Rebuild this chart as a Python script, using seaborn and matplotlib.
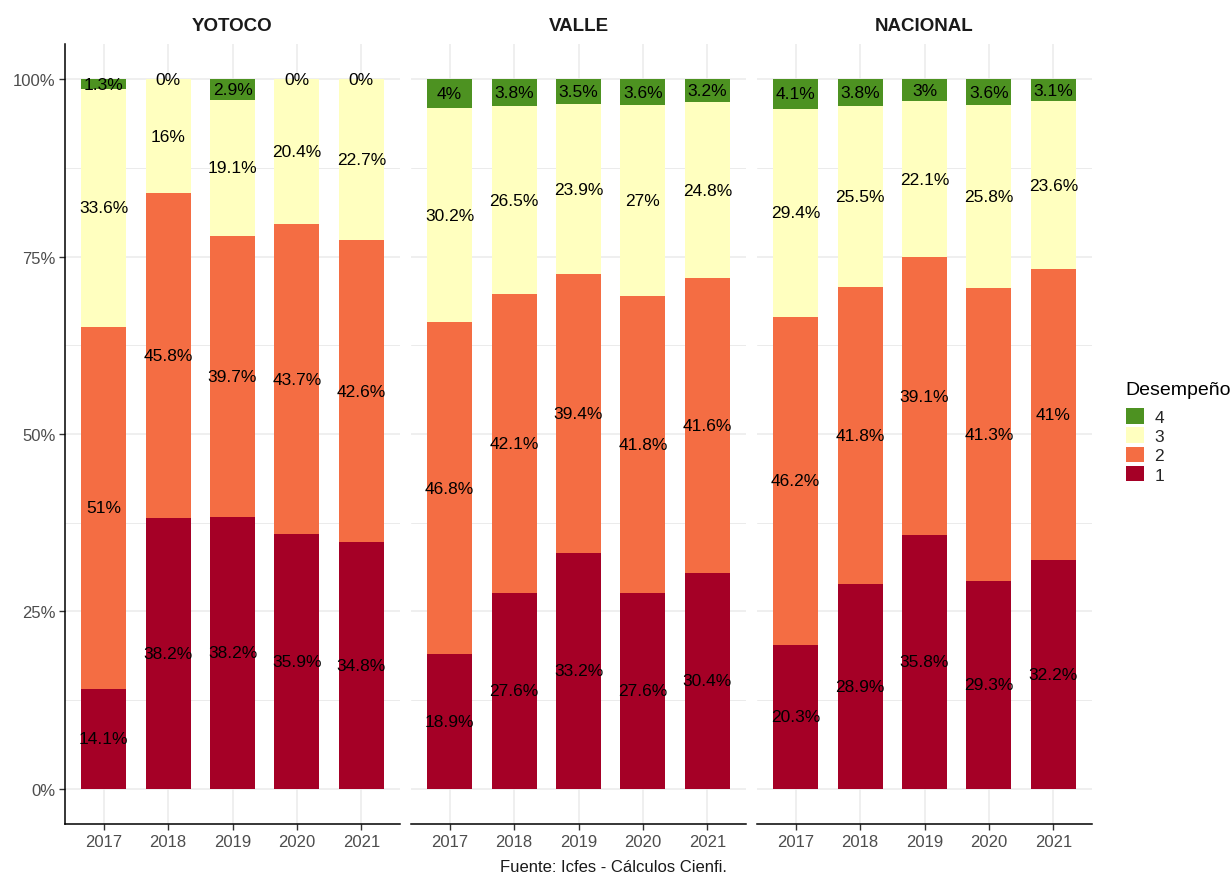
import numpy as np
import pandas as pd
import matplotlib
matplotlib.use("Agg")
import matplotlib.pyplot as plt
from matplotlib.ticker import MultipleLocator, FixedLocator
from matplotlib.patches import Patch
import seaborn as sns

# ---------------- data ----------------
years = ["2017", "2018", "2019", "2020", "2021"]
regions = ["YOTOCO", "VALLE", "NACIONAL"]
levels = ["1", "2", "3", "4"]

yotoco_1 = [14.1, 38.2, 38.2, 35.9, 34.8]
yotoco_2 = [51.0, 45.8, 39.7, 43.7, 42.6]
yotoco_3 = [33.6, 16.0, 19.1, 20.4, 22.7]
yotoco_4 = [1.3, 0.0, 2.9, 0.0, 0.0]

valle_1 = [18.9, 27.6, 33.2, 27.6, 30.4]
valle_2 = [46.8, 42.1, 39.4, 41.8, 41.6]
valle_3 = [30.2, 26.5, 23.9, 27.0, 24.8]
valle_4 = [4.0, 3.8, 3.5, 3.6, 3.2]

nacional_1 = [20.3, 28.9, 35.8, 29.3, 32.2]
nacional_2 = [46.2, 41.8, 39.1, 41.3, 41.0]
nacional_3 = [29.4, 25.5, 22.1, 25.8, 23.6]
nacional_4 = [4.1, 3.8, 3.0, 3.6, 3.1]

level_colors = {"1": "#A50026", "2": "#F46D43", "3": "#FFFFBF", "4": "#4D9221"}
caption = "Fuente: Icfes - Cálculos Cienfi."
legend_title = "Desempeño"

series = {
    "YOTOCO": [yotoco_1, yotoco_2, yotoco_3, yotoco_4],
    "VALLE": [valle_1, valle_2, valle_3, valle_4],
    "NACIONAL": [nacional_1, nacional_2, nacional_3, nacional_4],
}

rows = []
for r in regions:
    for li, lv in enumerate(levels):
        for yi, y in enumerate(years):
            rows.append(dict(region=r, level=lv, year=y, value=series[r][li][yi]))
df = pd.DataFrame(rows)
df["total"] = df.groupby(["region", "year"])["value"].transform("sum")
df["frac"] = df["value"] / df["total"]
df["cum"] = df.groupby(["region", "year"])["frac"].cumsum()
df["mid"] = df["cum"] - df["frac"] / 2

# ---------------- style ----------------
sns.set_theme(style="white")
plt.rcParams["font.family"] = ["Liberation Sans", "DejaVu Sans"]

fig = plt.figure(figsize=(12.31, 8.79), dpi=100)
W, H = 1231, 879
lefts = [65, 411, 757]
pw = 335
top, bot = 45, 825
axes = [fig.add_axes([l / W, (H - bot) / H, pw / W, (bot - top) / H]) for l in lefts]

for i, (ax, r) in enumerate(zip(axes, regions)):
    sub = df[df.region == r]
    # draw cumulative heights from the top level down so stacks appear
    for lv in reversed(levels):
        d = sub[sub.level == lv]
        sns.barplot(data=d, x="year", y="cum", order=years, color=level_colors[lv],
                    width=0.7, ax=ax, saturation=1, linewidth=0, zorder=2)
    for _, row in sub.iterrows():
        xi = years.index(row.year)
        ax.text(xi, row.mid, f"{row.value:g}%", ha="center", va="center",
                fontsize=12.5, color="black", zorder=5)
    ax.set_xlim(-0.6, 4.6)
    ax.set_ylim(-0.05, 1.05)
    ax.set_xlabel("")
    ax.set_ylabel("")
    ax.yaxis.set_major_locator(FixedLocator([0, 0.25, 0.5, 0.75, 1.0]))
    ax.yaxis.set_minor_locator(MultipleLocator(0.125))
    ax.set_yticklabels(["0%", "25%", "50%", "75%", "100%"])
    ax.set_axisbelow(True)
    ax.grid(True, which="major", color="#EBEBEB", linewidth=1.1, zorder=0)
    ax.grid(True, which="minor", axis="y", color="#EBEBEB", linewidth=0.7, zorder=0)
    for s in ["top", "right"]:
        ax.spines[s].set_visible(False)
    ax.spines["bottom"].set_color("black")
    ax.spines["bottom"].set_linewidth(1.1)
    ax.tick_params(axis="x", which="major", bottom=True, length=4, width=1,
                   color="#333333", labelsize=12, labelcolor="#4D4D4D", pad=3)
    ax.tick_params(axis="y", which="minor", left=False)
    if i == 0:
        ax.spines["left"].set_color("black")
        ax.spines["left"].set_linewidth(1.1)
        ax.tick_params(axis="y", which="major", left=True, length=4, width=1,
                       color="#333333", labelsize=12, labelcolor="#4D4D4D", pad=3)
    else:
        ax.spines["left"].set_visible(False)
        ax.tick_params(axis="y", which="major", left=False, labelleft=False)
    ax.set_title(r, fontsize=13.5, fontweight="bold", color="#1A1A1A", pad=10)

handles = [Patch(facecolor=level_colors[lv], edgecolor="none", label=lv) for lv in reversed(levels)]
fig.text(1125 / W, 1 - 391 / H, legend_title, ha="left", va="center", fontsize=14, color="black")
leg = fig.legend(handles=handles, loc="upper left",
                 bbox_to_anchor=(1126 / W, 1 - 409 / H), frameon=False,
                 fontsize=12.5, handlelength=1.03, handleheight=1.0,
                 handletextpad=0.6, labelspacing=0.15, borderaxespad=0, borderpad=0)

fig.text(613 / W, 1 - 868 / H, caption, ha="center", va="center", fontsize=12, color="#1A1A1A")

fig.savefig("out.png", dpi=100)
